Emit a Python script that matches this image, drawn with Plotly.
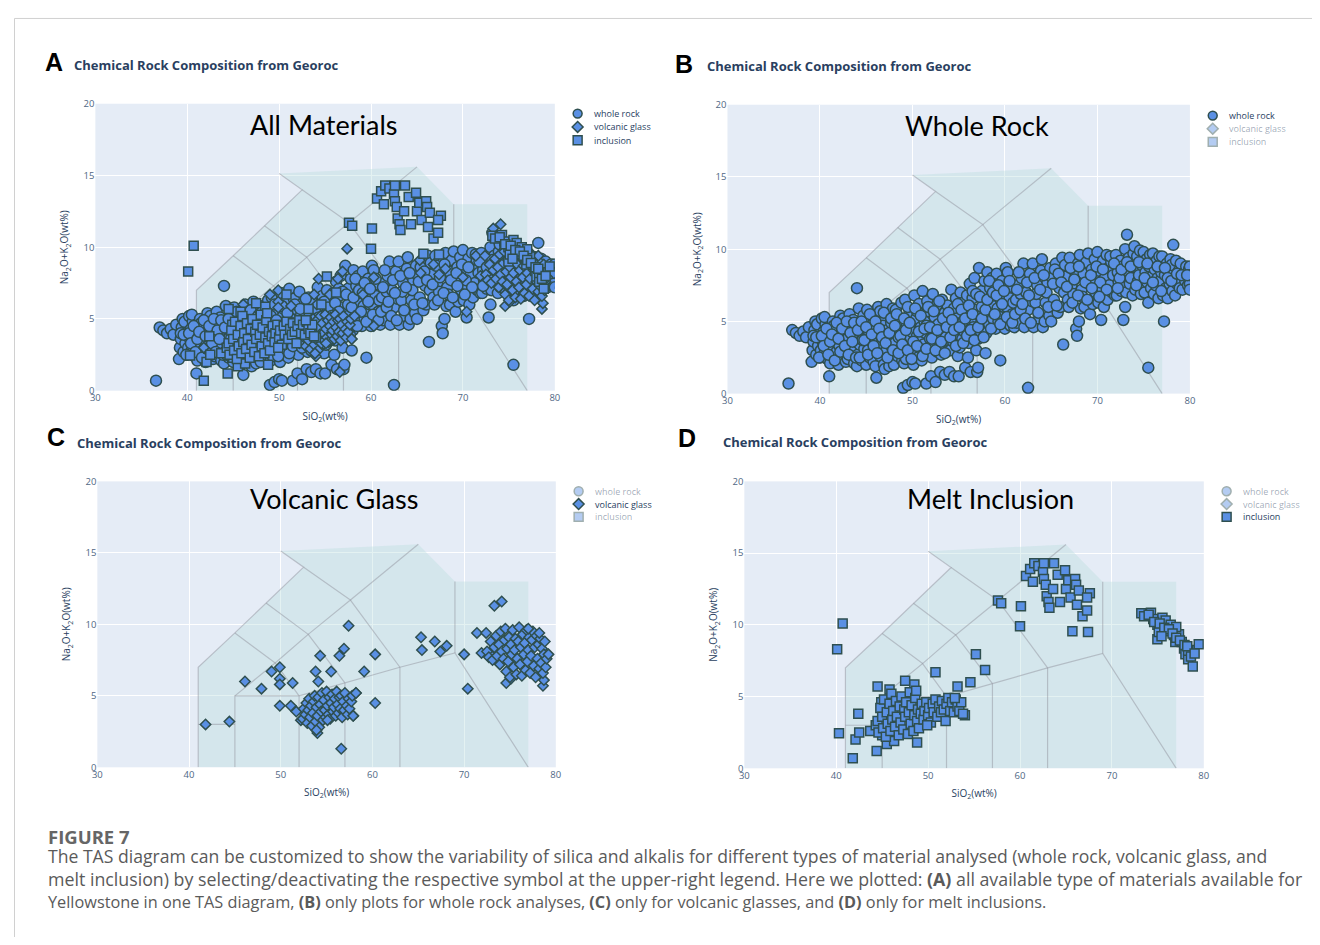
import plotly.graph_objects as go

# page is 1320x945; the html body adds an 8px margin, so the figure is 16px smaller
PAGE_W, PAGE_H = 1320, 945
BODY = 8
FW, FH = PAGE_W - 2 * BODY, PAGE_H - 2 * BODY

# ---------------- data ----------------
materials = ["whole rock", "volcanic glass", "inclusion"]

whole_rock_pts = [
    (36.6, 0.7), (37.0, 4.4), (37.4, 4.2), (37.8, 4.0), (38.2, 4.3), (38.5, 3.9), (38.8, 4.6),
    (39.1, 2.2), (39.2, 3.0), (39.3, 3.6), (39.4, 4.4), (39.5, 5.0), (39.6, 2.7), (39.8, 3.3), (39.9, 4.1), (39.7, 4.8),
    (40.0, 2.5), (40.1, 3.0), (40.2, 5.2), (40.3, 3.6), (40.4, 4.3), (40.5, 2.8), (40.6, 4.8), (40.7, 3.9), (40.8, 2.4), (40.9, 3.3), (40.5, 5.3),
    (41.0, 1.2), (41.1, 2.1), (41.2, 4.5), (41.3, 3.1), (41.4, 5.0), (41.5, 2.6), (41.6, 3.8), (41.7, 4.2), (41.8, 2.9), (41.9, 3.5), (41.5, 4.7),
    (42.0, 2.0), (42.1, 3.3), (42.2, 5.4), (42.3, 2.6), (42.4, 4.1), (42.5, 4.9), (42.6, 3.0), (42.7, 3.7), (42.8, 2.2), (42.9, 4.5), (42.5, 5.2),
    (43.0, 2.4), (43.1, 3.9), (43.2, 5.5), (43.3, 2.9), (43.4, 4.6), (43.5, 3.2), (43.6, 5.1), (43.7, 2.1), (43.8, 3.6), (43.9, 4.2),
    (44.0, 7.3), (44.0, 1.9), (44.1, 2.7), (44.2, 5.9), (44.3, 3.4), (44.4, 4.9), (44.5, 2.3), (44.6, 4.0), (44.7, 5.4), (44.8, 3.1), (44.9, 4.5), (44.6, 3.7),
    (45.0, 2.0), (45.1, 5.8), (45.2, 3.0), (45.3, 4.3), (45.4, 2.5), (45.5, 5.2), (45.6, 3.6), (45.7, 4.8), (45.8, 2.2), (45.9, 3.9),
    (46.0, 1.9), (46.1, 1.1), (46.2, 3.2), (46.3, 6.0), (46.4, 4.1), (46.5, 2.6), (46.6, 5.3), (46.7, 3.5), (46.8, 4.7), (46.9, 2.0), (46.5, 5.7),
    (47.0, 1.7), (47.1, 2.9), (47.2, 6.2), (47.3, 4.4), (47.4, 3.7), (47.5, 5.5), (47.6, 2.3), (47.7, 4.9), (47.8, 3.2), (47.9, 5.9), (47.5, 1.9),
    (48.0, 2.0), (48.1, 3.5), (48.2, 5.8), (48.3, 4.2), (48.4, 2.6), (48.5, 5.1), (48.6, 3.0), (48.7, 4.6), (48.8, 6.3), (48.9, 2.3), (48.5, 3.9),
    (49.0, 0.4), (49.1, 2.1), (49.2, 6.5), (49.3, 3.3), (49.4, 4.8), (49.5, 0.6), (49.6, 2.7), (49.7, 5.6), (49.8, 3.9), (49.9, 4.3), (49.5, 6.0), (49.3, 2.4),
    (50.0, 0.8), (50.1, 2.0), (50.2, 6.8), (50.3, 3.1), (50.4, 5.2), (50.5, 4.0), (50.6, 2.5), (50.7, 6.2), (50.8, 3.6), (50.9, 4.6), (50.5, 5.7), (50.3, 0.7),
    (51.0, 2.3), (51.1, 7.1), (51.2, 3.4), (51.3, 5.0), (51.4, 4.2), (51.5, 0.7), (51.6, 6.4), (51.7, 2.8), (51.8, 5.7), (51.9, 3.8), (51.5, 4.7),
    (52.0, 1.2), (52.1, 2.5), (52.2, 6.9), (52.3, 3.5), (52.4, 5.3), (52.5, 4.1), (52.6, 6.1), (52.7, 2.9), (52.8, 4.8), (52.9, 3.2), (52.5, 0.8),
    (53.0, 1.5), (53.1, 2.7), (53.2, 6.5), (53.3, 4.4), (53.4, 3.3), (53.5, 5.6), (53.6, 3.9), (53.7, 5.0), (53.8, 6.1), (53.9, 3.0), (53.5, 1.3),
    (54.0, 1.5), (54.1, 3.0), (54.2, 7.2), (54.3, 4.6), (54.4, 3.6), (54.5, 5.9), (54.6, 4.1), (54.7, 6.6), (54.8, 5.2), (54.9, 2.6), (54.5, 1.2),
    (55.0, 1.2), (55.1, 3.2), (55.2, 7.0), (55.3, 4.9), (55.4, 3.8), (55.5, 6.3), (55.6, 4.3), (55.7, 1.8), (55.8, 5.5), (55.9, 6.8), (55.5, 5.0),
    (56.0, 2.5), (56.1, 3.5), (56.2, 7.6), (56.3, 5.1), (56.4, 4.0), (56.5, 6.6), (56.6, 4.6), (56.7, 8.0), (56.8, 5.8), (56.9, 3.0), (56.5, 7.1), (56.3, 1.5),
    (57.0, 1.5), (57.1, 3.8), (57.2, 8.7), (57.3, 5.4), (57.4, 4.3), (57.5, 7.1), (57.6, 4.9), (57.7, 6.3), (57.8, 7.8), (57.9, 2.8), (57.1, 1.8), (57.5, 6.0),
    (58.0, 4.2), (58.1, 8.4), (58.2, 5.7), (58.3, 4.8), (58.4, 7.3), (58.5, 6.2), (58.6, 8.0), (58.7, 5.2), (58.8, 6.8), (58.9, 7.6),
    (59.0, 4.5), (59.1, 8.3), (59.2, 5.9), (59.3, 5.0), (59.4, 7.0), (59.5, 2.3), (59.6, 6.4), (59.7, 7.8), (59.8, 5.4), (59.9, 6.0),
    (60.0, 4.5), (60.1, 8.7), (60.2, 6.0), (60.3, 8.4), (60.4, 5.0), (60.5, 6.6), (60.6, 4.7), (60.7, 7.4), (60.8, 5.5), (60.9, 6.3),
    (61.0, 4.6), (61.2, 6.5), (61.4, 7.5), (61.6, 5.0), (61.8, 8.0), (61.3, 4.9), (61.7, 6.9),
    (62.0, 9.0), (62.1, 4.6), (62.3, 7.0), (62.5, 0.4), (62.5, 5.8), (62.7, 8.3), (62.9, 6.4), (62.4, 7.7),
    (63.0, 9.0), (63.1, 4.6), (63.3, 6.3), (63.5, 7.5), (63.7, 5.2), (63.9, 8.5), (63.4, 6.9),
    (64.0, 9.3), (64.1, 4.6), (64.3, 5.0), (64.4, 6.3), (64.6, 7.7), (64.8, 5.4), (64.9, 8.7), (64.5, 7.0),
    (65.0, 5.0), (65.1, 8.0), (65.3, 6.5), (65.5, 9.0), (65.7, 5.6), (65.9, 7.3), (65.4, 8.6),
    (66.0, 6.0), (66.3, 3.4), (66.2, 9.4), (66.4, 7.0), (66.6, 8.1), (66.8, 6.5), (66.5, 8.9),
    (67.0, 9.4), (67.2, 7.5), (67.4, 6.9), (67.6, 8.4), (67.7, 4.5), (67.8, 4.0), (67.9, 9.0),
    (68.0, 5.0), (68.1, 9.6), (68.2, 5.9), (68.3, 7.2), (68.5, 8.3), (68.6, 6.0), (68.8, 9.1), (68.4, 6.7),
    (69.0, 9.7), (69.1, 7.6), (69.2, 5.5), (69.4, 8.6), (69.5, 6.2), (69.7, 9.3), (69.8, 7.0), (69.6, 8.0),
    (70.0, 9.8), (70.1, 6.3), (70.2, 8.5), (70.4, 5.1), (70.5, 7.3), (70.6, 9.2), (70.7, 6.0), (70.8, 8.0), (70.9, 6.8),
    (71.0, 9.6), (71.1, 6.5), (71.2, 8.7), (71.3, 7.5), (71.5, 9.1), (71.6, 7.0), (71.7, 8.2), (71.9, 6.8), (71.4, 9.5),
    (72.0, 9.6), (72.1, 6.8), (72.2, 8.4), (72.3, 7.7), (72.5, 9.2), (72.6, 7.1), (72.8, 5.1), (72.7, 8.8), (72.9, 7.4), (72.4, 8.0),
    (73.0, 10.0), (73.0, 6.0), (73.1, 7.0), (73.2, 11.0), (73.3, 8.5), (73.4, 9.4), (73.5, 7.6), (73.6, 8.0), (73.7, 9.0), (73.8, 6.8), (73.9, 9.7),
    (74.0, 10.2), (74.1, 7.2), (74.2, 8.7), (74.3, 9.5), (74.4, 7.8), (74.5, 8.2), (74.6, 9.9), (74.7, 6.9), (74.8, 8.9), (74.9, 7.5),
    (75.0, 9.8), (75.1, 7.0), (75.2, 8.4), (75.3, 9.3), (75.4, 7.7), (75.5, 6.3), (75.5, 1.8), (75.6, 8.8), (75.7, 9.6), (75.8, 7.3), (75.9, 8.1),
    (76.0, 9.7), (76.1, 6.9), (76.2, 8.6), (76.3, 7.5), (76.4, 9.2), (76.5, 8.0), (76.6, 6.6), (76.7, 9.5), (76.8, 7.8), (76.9, 8.4),
    (77.0, 9.5), (77.1, 6.8), (77.2, 5.0), (77.3, 8.2), (77.4, 7.3), (77.5, 9.0), (77.6, 6.6), (77.7, 8.6), (77.8, 7.6), (77.9, 9.3),
    (78.0, 8.9), (78.2, 10.3), (78.1, 7.1), (78.3, 8.0), (78.4, 6.8), (78.5, 9.2), (78.6, 7.6), (78.8, 8.5), (78.9, 7.3),
    (79.0, 9.0), (79.2, 7.2), (79.3, 8.3), (79.5, 7.8), (79.6, 8.8), (79.8, 7.5), (79.9, 8.6),
    (80.0, 8.8), (80.0, 7.6), (80.1, 8.2),
    # denser interior of the whole-rock cloud
    (39.3, 4.0), (39.6, 3.9), (39.9, 2.5), (40.2, 4.0), (40.4, 3.3), (40.7, 4.5), (40.9, 2.7), (41.1, 3.6),
    (41.3, 4.1), (41.6, 2.3), (41.8, 4.9), (42.0, 3.8), (42.2, 2.9), (42.4, 4.5), (42.7, 3.3), (42.9, 5.0),
    (43.1, 2.7), (43.3, 4.2), (43.5, 3.6), (43.7, 4.9), (43.9, 2.5), (44.1, 4.4), (44.3, 2.5), (44.5, 5.0),
    (44.8, 3.7), (45.0, 4.6), (45.2, 2.7), (45.4, 5.5), (45.6, 4.1), (45.8, 3.3), (46.0, 5.0), (46.2, 2.8),
    (46.4, 4.5), (46.7, 3.9), (46.9, 5.6), (47.1, 3.5), (47.3, 2.5), (47.5, 4.2), (47.7, 5.2), (47.9, 3.0),
    (48.1, 4.7), (48.3, 5.5), (48.5, 2.8), (48.7, 4.0), (48.9, 3.4), (49.1, 5.2), (49.3, 4.4), (49.5, 3.0),
    (49.7, 4.9), (49.9, 2.4), (50.1, 3.6), (50.3, 5.9), (50.5, 3.3), (50.7, 4.3), (50.9, 5.4), (51.1, 2.6),
    (51.3, 4.5), (51.5, 3.1), (51.7, 6.0), (51.9, 4.6), (52.1, 3.8), (52.3, 5.7), (52.5, 3.0), (52.7, 4.4),
    (52.9, 6.4), (53.1, 3.6), (53.3, 5.2), (53.5, 2.8), (53.7, 4.6), (53.9, 5.6), (54.1, 3.9), (54.3, 5.1),
    (54.5, 4.4), (54.7, 3.3), (54.9, 6.2), (55.1, 4.6), (55.3, 5.8), (55.5, 3.5), (55.7, 5.2), (55.9, 4.0),
    (56.1, 6.1), (56.3, 4.4), (56.5, 5.5), (56.7, 3.7), (56.9, 6.9), (57.1, 4.6), (57.3, 6.7), (57.5, 5.2),
    (57.7, 3.9), (57.9, 5.8), (58.1, 6.5), (58.3, 7.8), (58.5, 4.5), (58.7, 7.0), (58.9, 5.5), (59.1, 6.8),
    (59.3, 7.5), (59.5, 4.8), (59.7, 6.2), (59.9, 7.1), (60.2, 5.3), (60.5, 7.8), (60.8, 4.9), (61.1, 5.5),
    (61.3, 7.2), (61.5, 8.4), (61.7, 5.8), (61.9, 6.2), (62.2, 5.2), (62.6, 6.8), (62.8, 4.9), (63.2, 8.0),
    (63.6, 5.6), (63.8, 7.2), (64.2, 8.2), (64.7, 6.0), (65.2, 7.6), (65.6, 6.1), (65.8, 8.3), (66.1, 7.7),
    (66.7, 7.4), (67.1, 8.7), (67.5, 7.9), (68.0, 8.8), (68.7, 7.7), (69.3, 8.2), (69.9, 8.8), (70.3, 7.7),
    (70.6, 8.6), (71.0, 7.2), (71.8, 9.0), (72.2, 7.3), (72.6, 8.6), (73.2, 9.1), (73.6, 8.8), (74.2, 7.5),
    (74.5, 9.1), (75.1, 8.0), (75.4, 9.0), (76.0, 7.7), (76.5, 8.8), (76.9, 7.1), (77.3, 8.7), (77.6, 8.0),
    (78.0, 7.8), (78.6, 8.3), (79.1, 8.2), (79.7, 8.2), (80.0, 7.2),
    (66.9, 6.0), (67.3, 6.3), (67.9, 6.8), (68.9, 6.5), (69.4, 7.3), (70.2, 6.7),
]

volcanic_glass_pts = [
    (41.8, 3.0), (44.4, 3.2), (46.1, 6.0), (47.9, 5.5), (49.0, 6.7), (49.9, 7.0), (49.9, 6.2), (49.9, 5.8),
    (51.3, 5.9), (49.9, 4.3), (51.1, 4.3), (51.7, 3.9), (52.2, 3.3), (54.0, 2.4), (56.6, 1.3), (53.8, 6.7),
    (54.1, 6.0), (54.3, 7.8), (55.5, 6.7), (56.4, 7.8), (56.9, 8.3), (57.4, 9.9), (58.2, 5.2), (57.9, 3.6),
    (59.1, 6.7), (60.3, 7.9), (60.3, 4.5),
    (52.4, 3.4), (52.5, 4.1), (52.7, 3.7), (52.8, 4.5), (52.9, 3.1), (53.0, 4.0), (53.1, 4.8), (53.2, 3.5),
    (53.3, 4.3), (53.4, 2.9), (53.5, 3.8), (53.6, 4.6), (53.7, 5.0), (53.8, 3.2), (53.9, 4.2), (54.0, 3.6),
    (54.1, 4.9), (54.2, 2.8), (54.3, 4.4), (54.4, 3.9), (54.5, 5.2), (54.6, 3.3), (54.7, 4.7), (54.8, 4.0),
    (54.9, 3.5), (55.0, 5.3), (55.1, 4.3), (55.2, 3.7), (55.3, 4.9), (55.4, 3.4), (55.5, 4.5), (55.6, 5.1),
    (55.7, 3.9), (55.8, 4.2), (55.9, 4.8), (56.0, 3.6), (56.1, 5.3), (56.2, 4.4), (56.3, 3.8), (56.4, 4.9),
    (56.5, 4.1), (56.6, 5.0), (56.7, 3.5), (56.8, 4.6), (56.9, 4.0), (57.0, 5.2), (57.2, 4.3), (57.3, 3.7),
    (57.4, 4.8), (57.5, 4.1), (57.7, 4.6), (57.8, 5.0), (57.9, 3.6), (58.2, 5.2), (55.1, 3.3), (53.9, 2.6),
    (65.3, 9.1), (65.4, 8.2), (66.8, 8.8), (67.4, 8.1), (68.1, 8.5), (70.0, 7.9), (70.4, 5.5), (71.4, 9.4),
    (71.9, 8.0), (72.4, 9.4), (73.3, 11.3), (74.1, 11.6), (73.0, 7.8), (74.6, 5.9), (75.1, 6.2), (78.6, 5.7),
    (78.7, 6.1),
    (72.5, 8.1), (72.7, 7.7), (72.9, 8.8), (73.1, 7.5), (73.3, 8.4), (73.5, 9.2), (73.6, 7.8), (73.8, 8.6),
    (73.9, 7.2), (74.0, 9.5), (74.1, 8.1), (74.3, 7.6), (74.4, 8.9), (74.5, 9.7), (74.6, 6.7), (74.7, 8.3),
    (74.8, 7.4), (74.9, 9.1), (75.0, 6.3), (75.1, 8.6), (75.2, 7.9), (75.3, 9.6), (75.4, 7.0), (75.5, 8.2),
    (75.6, 9.0), (75.7, 6.5), (75.8, 7.6), (75.9, 8.8), (76.0, 9.8), (76.1, 7.2), (76.2, 8.4), (76.3, 6.4),
    (76.4, 9.3), (76.5, 7.9), (76.6, 8.7), (76.7, 6.8), (76.8, 9.6), (76.9, 7.4), (77.0, 8.2), (77.1, 9.1),
    (77.2, 6.6), (77.3, 7.8), (77.4, 8.9), (77.5, 9.5), (77.6, 7.1), (77.7, 8.4), (77.8, 6.3), (77.9, 9.2),
    (78.0, 7.6), (78.1, 8.6), (78.2, 6.9), (78.3, 9.0), (78.4, 7.3), (78.5, 8.3), (78.6, 6.6), (78.7, 7.9),
    (78.8, 8.8), (78.9, 7.0), (79.0, 7.6), (79.2, 7.9), (78.2, 9.4), (77.0, 9.7),
]

inclusion_pts = [
    (40.1, 8.3), (40.7, 10.1), (40.3, 2.45), (41.8, 0.7), (42.1, 2.0), (42.4, 3.8), (42.5, 2.5), (43.7, 2.6),
    (44.4, 1.2), (44.5, 5.7), (44.9, 4.6), (45.0, 2.3), (45.5, 1.7), (45.8, 5.5), (46.3, 1.9), (47.5, 6.1),
    (48.5, 5.85), (48.8, 1.8), (50.8, 6.7), (53.2, 5.7), (54.6, 6.0), (55.2, 7.95), (56.2, 6.85), (54.0, 3.7),
    (44.3, 3.0), (44.5, 3.3), (44.6, 2.5), (44.8, 4.2), (45.0, 3.6), (45.1, 2.8), (45.2, 4.8), (45.4, 2.2),
    (45.5, 3.9), (45.6, 3.1), (45.8, 4.5), (45.9, 2.6), (46.0, 5.2), (46.1, 3.4), (46.2, 4.0), (46.4, 2.9),
    (46.5, 4.7), (46.6, 3.6), (46.8, 2.3), (46.9, 4.3), (47.0, 3.2), (47.1, 5.0), (47.3, 2.7), (47.4, 4.1),
    (47.5, 3.6), (47.6, 4.6), (47.8, 2.4), (47.9, 3.9), (48.0, 5.3), (48.1, 3.1), (48.2, 4.4), (48.4, 2.6),
    (48.5, 3.7), (48.6, 4.9), (48.8, 3.3), (48.9, 4.1), (49.0, 2.8), (49.2, 3.8), (49.3, 4.5), (49.5, 3.4),
    (49.6, 4.0), (49.8, 4.6), (50.0, 3.7), (50.1, 4.2), (50.3, 3.2), (50.5, 4.5), (50.6, 3.9), (50.8, 4.8),
    (51.0, 3.6), (51.2, 4.3), (51.4, 3.9), (51.5, 4.7), (51.7, 4.1), (51.9, 3.3), (52.0, 4.5), (52.2, 4.9),
    (52.4, 4.0), (52.6, 4.6), (52.8, 3.9), (53.0, 4.8), (53.2, 4.3), (53.4, 4.0), (53.6, 4.6), (53.8, 3.8),
    (52.9, 4.9), (48.7, 5.4), (49.9, 3.0),
    (57.6, 11.7), (57.95, 11.5), (60.1, 11.3), (60.0, 9.9),
    (60.65, 13.4), (61.1, 13.9), (61.55, 14.3), (61.4, 13.0), (62.0, 14.1), (62.5, 13.7), (62.6, 14.3), (62.6, 13.2),
    (62.8, 12.8), (62.9, 12.0), (63.1, 11.6), (63.2, 11.2), (63.6, 12.5), (63.7, 14.3), (64.1, 13.5), (64.35, 11.6),
    (64.9, 13.8), (65.0, 12.5), (65.25, 13.1), (65.5, 11.9), (65.7, 9.55), (66.0, 13.2), (66.1, 12.8), (66.2, 11.4),
    (66.4, 12.4), (66.8, 10.6), (67.3, 11.0), (67.4, 9.5), (67.6, 12.2), (67.3, 11.9),
    (73.2, 10.8), (74.25, 10.85), (74.5, 10.4), (74.95, 10.0), (74.95, 9.0), (75.5, 10.5), (75.85, 10.3), (76.0, 9.55),
    (76.4, 10.0), (76.75, 9.3), (76.9, 8.8), (77.3, 9.35), (77.6, 8.8), (77.85, 8.35), (78.0, 7.95), (78.3, 7.6),
    (78.8, 7.1), (78.55, 8.25), (79.45, 8.65), (78.3, 8.2), (77.0, 9.85), (75.1, 9.5),
    (73.5, 10.6), (74.0, 10.7), (74.6, 10.2), (75.2, 10.1), (75.7, 9.8), (76.2, 9.7), (76.6, 9.4), (77.0, 9.1),
    (77.4, 8.9), (77.9, 8.6), (78.2, 8.5), (78.6, 7.8), (79.0, 8.0), (75.4, 9.2),
]

# TAS field boundaries (SiO2, Na2O+K2O)
tas_field_outline = [(41, 0), (41, 7), (45, 9.4), (48.4, 11.5), (52.5, 14), (50, 15.13),
                     (65, 15.6), (69, 13), (77, 13), (77, 0)]
tas_boundaries = [
    [(41, 0), (41, 7), (45, 9.4), (48.4, 11.5), (52.5, 14), (50, 15.13)],
    [(41, 3), (45, 3)],
    [(45, 0), (45, 5), (52, 5), (52, 0)],
    [(45, 5), (49.4, 7.3), (52, 5)],
    [(45, 9.4), (49.4, 7.3), (53, 9.3), (57, 5.9)],
    [(48.4, 11.5), (53, 9.3), (57.6, 11.7), (52.5, 14)],
    [(52, 5), (57, 5.9), (63, 7), (69, 8), (77, 0)],
    [(57, 0), (57, 5.9)],
    [(63, 0), (63, 7)],
    [(57.6, 11.7), (63, 7)],
    [(57.6, 11.7), (65, 15.6)],
    [(69, 8), (69, 13)],
]

panel_letters = ["A", "B", "C", "D"]
panel_labels = ["All Materials", "Whole Rock", "Volcanic Glass", "Melt Inclusion"]
panel_shown = [
    ["whole rock", "volcanic glass", "inclusion"],
    ["whole rock"],
    ["volcanic glass"],
    ["inclusion"],
]
x_ticks = [30, 40, 50, 60, 70, 80]
y_ticks = [0, 5, 10, 15, 20]
subtitle = "Chemical Rock Composition from Georoc"

caption_head = "FIGURE 7"
caption_lines = [
    "The TAS diagram can be customized to show the variability of silica and alkalis for different types of material analysed (whole rock, volcanic glass, and",
    "melt inclusion) by selecting/deactivating the respective symbol at the upper-right legend. Here we plotted: <b>(A)</b> all available type of materials available for",
    "Yellowstone in one TAS diagram, <b>(B)</b> only plots for whole rock analyses, <b>(C)</b> only for volcanic glasses, and <b>(D)</b> only for melt inclusions.",
]
caption_sizes = [17.6, 17.8, 16.3]

# ---------------- layout geometry (page pixels) ----------------
def PX(x):
    return (x - BODY) / FW

def PY(y):
    return 1 - (y - BODY) / FH

# plot area boxes: left, right, top, bottom
boxes = [(91, 554, 98, 389), (728, 1194, 99, 392), (93, 555, 481, 771), (745, 1208, 481, 772)]
letter_pos = [(38, 56), (673, 58), (40, 436), (676, 437)]
subtitle_pos = [(67, 59), (705, 60), (70, 442), (721, 441)]
label_pos = [(321, 119), (979, 120), (331, 498), (993, 498)]
legend_marker_x = [577, 1217, 578, 1231]
legend_row_y = [(108, 121.5, 135), (110, 123.3, 136.7), (491, 504, 517), (491, 504, 517)]

symbols = {"whole rock": "circle", "volcanic glass": "diamond", "inclusion": "square"}
sizes = {"whole rock": 11, "volcanic glass": 8, "inclusion": 9}
data_by_mat = {
    "whole rock": whole_rock_pts,
    "volcanic glass": volcanic_glass_pts,
    "inclusion": inclusion_pts,
}
MARKER_FILL = "#5A90E4"
MARKER_EDGE = "DarkSlateGrey"

fig = go.Figure()

for i in range(4):
    n = "" if i == 0 else str(i + 1)
    xr, yr = "x" + n, "y" + n
    fig.add_trace(go.Scatter(
        x=[p[0] for p in tas_field_outline], y=[p[1] for p in tas_field_outline],
        mode="lines", fill="toself", fillcolor="rgba(185,222,222,0.38)",
        line=dict(width=0), hoverinfo="skip", showlegend=False, xaxis=xr, yaxis=yr))
    bx, by = [], []
    for seg in tas_boundaries:
        bx += [p[0] for p in seg] + [None]
        by += [p[1] for p in seg] + [None]
    fig.add_trace(go.Scatter(
        x=bx, y=by, mode="lines", line=dict(color="rgba(140,140,150,0.45)", width=1.2),
        hoverinfo="skip", showlegend=False, xaxis=xr, yaxis=yr))
    for mat in materials:
        pts = data_by_mat[mat]
        fig.add_trace(go.Scatter(
            x=[p[0] for p in pts], y=[p[1] for p in pts], mode="markers", name=mat,
            marker=dict(symbol=symbols[mat], size=sizes[mat], color=MARKER_FILL,
                        line=dict(width=1.5, color=MARKER_EDGE)),
            visible=True if mat in panel_shown[i] else "legendonly",
            showlegend=False, xaxis=xr, yaxis=yr))

layout = dict(
    width=FW, height=FH, autosize=False,
    margin=dict(l=0, r=0, t=0, b=0),
    paper_bgcolor="white", plot_bgcolor="#E5ECF6",
    font=dict(family="Open Sans, verdana, arial, sans-serif", color="#2a3f5f"),
    showlegend=False,
)

for i in range(4):
    n = "" if i == 0 else str(i + 1)
    l, r, t, b = boxes[i]
    layout["xaxis" + n] = dict(
        domain=[PX(l), PX(r)], anchor="y" + n, range=[30, 80],
        tickvals=x_ticks, ticktext=[str(v) for v in x_ticks],
        showgrid=True, gridcolor="white", gridwidth=1, zeroline=False,
        showline=False, ticks="", tickfont=dict(size=9.5, color="#506784"),
        title=dict(text="SiO<sub>2</sub>(wt%)", font=dict(size=10, color="#2a3f5f"), standoff=9),
    )
    layout["yaxis" + n] = dict(
        domain=[PY(b), PY(t)], anchor="x" + n, range=[0, 20],
        tickvals=y_ticks, ticktext=[str(v) for v in y_ticks],
        showgrid=True, gridcolor="white", gridwidth=1, zeroline=False,
        showline=False, ticks="", tickfont=dict(size=9.5, color="#506784"),
        title=dict(text="Na<sub>2</sub>O+K<sub>2</sub>O(wt%)", font=dict(size=10, color="#2a3f5f"), standoff=12),
    )

fig.update_layout(**layout)

annotations = []
shapes = []
for i in range(4):
    x, y = letter_pos[i]
    annotations.append(dict(text="<b>%s</b>" % panel_letters[i], x=PX(x), y=PY(y), xref="paper", yref="paper",
                            xanchor="left", yanchor="middle", showarrow=False,
                            font=dict(family="Liberation Sans, Arial, sans-serif", size=25, color="black")))
    x, y = subtitle_pos[i]
    annotations.append(dict(text="<b>%s</b>" % subtitle, x=PX(x), y=PY(y), xref="paper", yref="paper",
                            xanchor="left", yanchor="middle", showarrow=False,
                            font=dict(family="Open Sans, verdana, arial, sans-serif", size=13, color="#2a3f5f")))
    x, y = label_pos[i]
    annotations.append(dict(text=panel_labels[i], x=PX(x), y=PY(y), xref="paper", yref="paper",
                            xanchor="center", yanchor="middle", showarrow=False,
                            font=dict(family="Lato, Open Sans, sans-serif", size=27, color="black")))
    # legend: one row per material, faded when the material is switched off
    mx = legend_marker_x[i]
    for k, mat in enumerate(materials):
        my = legend_row_y[i][k]
        on = mat in panel_shown[i]
        op = 1.0 if on else 0.45
        r = 4.5
        if symbols[mat] == "circle":
            shapes.append(dict(type="circle", xref="paper", yref="paper",
                               x0=PX(mx - r), x1=PX(mx + r), y0=PY(my + r), y1=PY(my - r),
                               fillcolor=MARKER_FILL, line=dict(color=MARKER_EDGE, width=1.5), opacity=op))
        elif symbols[mat] == "square":
            shapes.append(dict(type="rect", xref="paper", yref="paper",
                               x0=PX(mx - r), x1=PX(mx + r), y0=PY(my + r), y1=PY(my - r),
                               fillcolor=MARKER_FILL, line=dict(color=MARKER_EDGE, width=1.5), opacity=op))
        else:
            d = 5.5
            path = "M %f,%f L %f,%f L %f,%f L %f,%f Z" % (
                PX(mx), PY(my - d), PX(mx + d), PY(my), PX(mx), PY(my + d), PX(mx - d), PY(my))
            shapes.append(dict(type="path", xref="paper", yref="paper", path=path,
                               fillcolor=MARKER_FILL, line=dict(color=MARKER_EDGE, width=1.5), opacity=op))
        annotations.append(dict(text=mat, x=PX(mx + 14), y=PY(my), xref="paper", yref="paper",
                                xanchor="left", yanchor="middle", showarrow=False,
                                font=dict(family="Open Sans, verdana, arial, sans-serif", size=9,
                                          color="#2a3f5f" if on else "rgba(42,63,95,0.45)")))

annotations.append(dict(text="<b>%s</b>" % caption_head, x=PX(41), y=PY(841), xref="paper", yref="paper",
                        xanchor="left", yanchor="middle", showarrow=False,
                        font=dict(family="Open Sans, sans-serif", size=18.5, color="#666666")))
for k, line in enumerate(caption_lines):
    annotations.append(dict(text=line, x=PX(41), y=PY(861 + k * 23.5), xref="paper", yref="paper",
                            xanchor="left", yanchor="middle", showarrow=False,
                            font=dict(family="Open Sans, sans-serif", size=caption_sizes[k], color="#5a5a5a")))

shapes.append(dict(type="rect", xref="paper", yref="paper", x0=PX(9.5), y0=PY(11.5), x1=1.05, y1=-0.05,
                   line=dict(color="#d0d0d0", width=1), fillcolor="rgba(0,0,0,0)", layer="below"))

fig.update_layout(annotations=annotations, shapes=shapes)

fig.write_html("out.html")
